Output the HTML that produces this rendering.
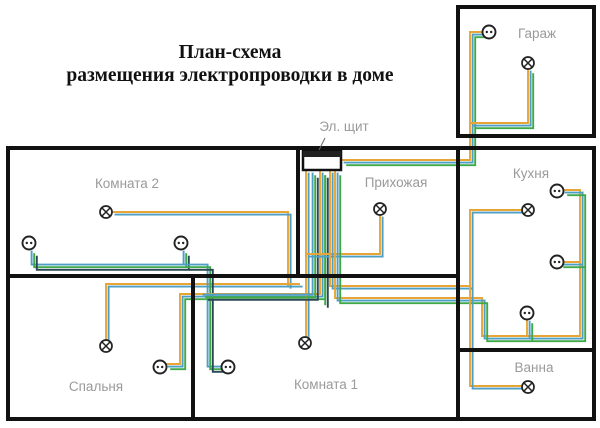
<!DOCTYPE html>
<html><head><meta charset="utf-8">
<style>
html,body{margin:0;padding:0;background:#fff;}
svg{display:block;}
.lbl{font-family:"Liberation Sans",sans-serif;font-size:13.5px;fill:#9a9a9a;}
.ttl{font-family:"Liberation Serif",serif;font-size:19.5px;font-weight:bold;fill:#111;}
</style></head>
<body>
<svg id="s" width="600" height="428" viewBox="0 0 600 428" xmlns="http://www.w3.org/2000/svg">
<g id="wires" fill="none" stroke-width="1.9"></g>
<g fill="none" stroke="#111" stroke-width="4" stroke-linecap="square">
<rect x="458" y="7" width="136" height="129"/>
<rect x="8" y="148" width="586" height="271"/>
<line x1="8" y1="276" x2="458" y2="276"/>
<line x1="298" y1="148" x2="298" y2="276"/>
<line x1="193" y1="276" x2="193" y2="419"/>
<line x1="458" y1="148" x2="458" y2="419"/>
<line x1="458" y1="350" x2="594" y2="350"/>
</g>
<rect x="303" y="151" width="38" height="19" fill="#fff" stroke="#111" stroke-width="2.5"/>
<rect x="303" y="151" width="38" height="6" fill="#222"/>
<line x1="325" y1="138" x2="319" y2="150" stroke="#666" stroke-width="1"/>
<g id="dev"></g>
<text class="ttl" x="230" y="58" text-anchor="middle">План-схема</text>
<text class="ttl" x="230" y="81" text-anchor="middle">размещения электропроводки в доме</text>
<text class="lbl" x="127" y="188" text-anchor="middle">Комната 2</text>
<text class="lbl" x="96" y="391" text-anchor="middle">Спальня</text>
<text class="lbl" x="326" y="389" text-anchor="middle">Комната 1</text>
<text class="lbl" x="396" y="187" text-anchor="middle">Прихожая</text>
<text class="lbl" x="531" y="178" text-anchor="middle">Кухня</text>
<text class="lbl" x="534" y="372" text-anchor="middle">Ванна</text>
<text class="lbl" x="537" y="38" text-anchor="middle">Гараж</text>
<text class="lbl" x="344" y="131" text-anchor="middle">Эл. щит</text>
</svg>
<script>
var W=document.getElementById('wires'),D=document.getElementById('dev'),NS='http://www.w3.org/2000/svg';
var cols=['#e8a535','#4d9fc4','#3fa94a','#2b4656'];
function b(pts,n,o){n=n||3;o=o||0;for(var i=0;i<n;i++){var d=(i+o)*2.6;var p=document.createElementNS(NS,'polyline');
p.setAttribute('points',pts.map(function(q){return (q[0]+d)+','+(q[1]+d)}).join(' '));p.setAttribute('stroke',cols[(i+o)%4]);W.appendChild(p);}}
b([[341,160],[470,160],[470,32],[484,32]]);
b([[470,123],[528,123],[528,68]]);
b([[112,212],[288,212],[288,286]],2);
b([[300,284],[106,284],[106,340]],2);
b([[29,248],[29,262],[181,262],[181,248]],3,1);
b([[181,262],[205,262],[205,364],[222,364]],3,1);
b([[165,364],[180,364],[180,294],[320,294],[320,170]],3,0);
b([[306,170],[306,338]],2);
b([[310,170],[310,292],[200,292]],3,1);
b([[320,170],[320,300]],2,2);
b([[380,214],[380,254],[305,254]],2);
b([[330,170],[330,286],[470,286]],2);
b([[335,170],[335,298],[482,298],[482,336],[580,336],[580,190],[562,190]],3);
b([[558,262],[580,262]],3);
b([[527,318],[527,336]],3);
b([[523,210],[470,210],[470,386],[522,386]],2);
function lamp(x,y){var g='<circle cx="'+x+'" cy="'+y+'" r="6" fill="#fff" stroke="#222" stroke-width="1.7"/><path d="M'+(x-4)+' '+(y-4)+'L'+(x+4)+' '+(y+4)+'M'+(x+4)+' '+(y-4)+'L'+(x-4)+' '+(y+4)+'" stroke="#222" stroke-width="1.5"/>';D.insertAdjacentHTML('beforeend',g);}
function sock(x,y){var g='<circle cx="'+x+'" cy="'+y+'" r="6.5" fill="#fff" stroke="#222" stroke-width="1.9"/><circle cx="'+(x-2.2)+'" cy="'+y+'" r="1.2" fill="#222"/><circle cx="'+(x+2.2)+'" cy="'+y+'" r="1.2" fill="#222"/>';D.insertAdjacentHTML('beforeend',g);}
lamp(106,212);lamp(106,346);lamp(305,343);lamp(380,209);lamp(528,210);lamp(528,387);lamp(528,63);
sock(29,243);sock(181,243);sock(160,367);sock(228,367);sock(557,191);sock(557,262);sock(527,313);sock(489,32);
</script>
</body></html>
